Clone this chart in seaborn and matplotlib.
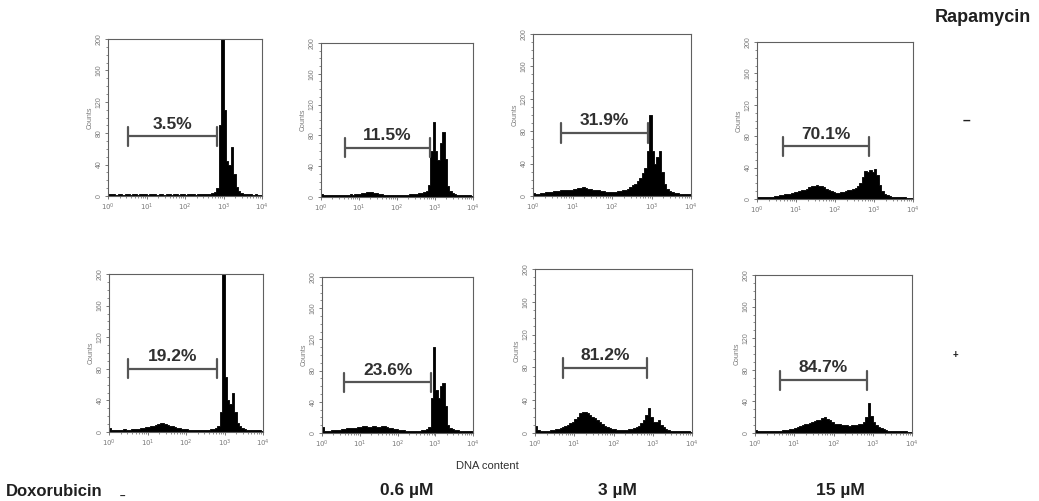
import numpy as np
import matplotlib
matplotlib.use("Agg")
import matplotlib.pyplot as plt
from matplotlib.ticker import FixedLocator, MultipleLocator, LogLocator, NullFormatter
import seaborn as sns

sns.set_style("white")
plt.rcParams["font.family"] = ["Liberation Sans", "DejaVu Sans"]

# DNA content histograms: counts per bin, 16 bins per decade over 10^0 .. 10^4
BINS_PER_DECADE = 16
N_BINS = 64

rapa_minus_ctrl = [3, 2, 2, 1, 2, 2, 1, 2,
                   2, 1, 2, 2, 1, 2, 2, 2,
                   1, 2, 2, 2, 1, 2, 2, 1,
                   2, 2, 1, 2, 2, 1, 2, 2,
                   1, 2, 2, 2, 1, 2, 2, 3,
                   2, 3, 3, 4, 5, 10, 90, 230,
                   110, 45, 40, 62, 28, 12, 6, 4,
                   3, 3, 2, 2, 1, 2, 1, 1]
rapa_minus_dox06 = [4, 2, 2, 2, 2, 3, 2, 2,
                    3, 3, 3, 3, 4, 3, 4, 4,
                    4, 5, 5, 6, 7, 6, 5, 5,
                    4, 4, 3, 3, 3, 3, 3, 2,
                    3, 2, 3, 3, 3, 4, 4, 4,
                    4, 5, 5, 6, 8, 15, 60, 97,
                    60, 48, 70, 84, 50, 14, 8, 5,
                    4, 3, 3, 2, 2, 2, 2, 1]
rapa_minus_dox3 = [4, 3, 3, 4, 4, 5, 5, 5,
                   6, 6, 6, 7, 7, 8, 8, 8,
                   9, 9, 10, 10, 11, 10, 9, 9,
                   8, 8, 7, 6, 6, 5, 5, 5,
                   5, 5, 6, 6, 7, 8, 9, 11,
                   13, 15, 18, 22, 28, 35, 55, 100,
                   55, 40, 48, 55, 30, 15, 9, 6,
                   5, 4, 4, 3, 3, 2, 2, 2]
rapa_minus_dox15 = [2, 2, 2, 3, 2, 3, 3, 4,
                    4, 5, 5, 6, 7, 7, 8, 9,
                    9, 10, 11, 12, 13, 15, 16, 17,
                    18, 17, 16, 15, 13, 11, 10, 9,
                    8, 8, 9, 9, 10, 11, 12, 13,
                    14, 16, 20, 28, 36, 35, 37, 34,
                    38, 30, 18, 10, 7, 5, 4, 3,
                    3, 2, 2, 2, 2, 1, 1, 1]
rapa_plus_ctrl = [5, 3, 3, 3, 3, 3, 4, 3,
                  3, 4, 4, 4, 4, 5, 5, 6,
                  6, 7, 8, 9, 10, 11, 11, 10,
                  9, 8, 7, 6, 5, 5, 4, 4,
                  4, 3, 3, 3, 3, 3, 3, 3,
                  3, 3, 4, 4, 5, 8, 25, 230,
                  70, 40, 35, 49, 25, 12, 8, 5,
                  4, 3, 3, 2, 2, 2, 2, 1]
rapa_plus_dox06 = [8, 3, 3, 3, 4, 4, 4, 4,
                   5, 5, 6, 6, 6, 7, 7, 8,
                   8, 9, 9, 8, 8, 9, 9, 8,
                   8, 9, 9, 8, 7, 6, 5, 5,
                   4, 4, 4, 3, 3, 3, 3, 3,
                   3, 3, 4, 4, 5, 8, 45, 110,
                   55, 45, 60, 64, 35, 10, 6, 5,
                   4, 4, 3, 3, 3, 2, 2, 2]
rapa_plus_dox3 = [8, 4, 3, 3, 3, 3, 4, 4,
                  5, 5, 6, 7, 8, 10, 12, 14,
                  17, 20, 24, 26, 25, 24, 22, 20,
                  18, 16, 14, 11, 9, 7, 6, 5,
                  5, 4, 4, 4, 4, 4, 5, 5,
                  6, 7, 9, 12, 16, 22, 30, 20,
                  14, 13, 16, 10, 7, 5, 4, 3,
                  3, 3, 2, 2, 2, 2, 2, 1]
rapa_plus_dox15 = [4, 3, 3, 3, 3, 3, 3, 3,
                   3, 3, 3, 4, 4, 4, 5, 5,
                   6, 7, 9, 10, 11, 12, 13, 14,
                   15, 16, 17, 19, 20, 18, 16, 14,
                   12, 11, 11, 10, 10, 10, 9, 10,
                   10, 10, 11, 12, 14, 20, 38, 22,
                   14, 10, 8, 6, 5, 4, 3, 3,
                   3, 2, 2, 2, 2, 2, 1, 1]

histograms = [[rapa_minus_ctrl, rapa_minus_dox06, rapa_minus_dox3, rapa_minus_dox15],
              [rapa_plus_ctrl, rapa_plus_dox06, rapa_plus_dox3, rapa_plus_dox15]]

# Sub-G1 gate markers: (lower bound, upper bound, marker height in counts)
gate_low = [[3.3, 4.3, 5.1, 4.7], [3.1, 3.8, 5.1, 4.4]]
gate_high = [[680, 740, 810, 740], [630, 790, 710, 710]]
gate_level = [[76, 64, 78, 67], [80, 65, 79, 67]]
gate_labels = [["3.5%", "11.5%", "31.9%", "70.1%"],
               ["19.2%", "23.6%", "81.2%", "84.7%"]]

dox_labels = ["\u2013", "0.6 \u00b5M", "3 \u00b5M", "15 \u00b5M"]
rapa_labels = ["\u2013", "+"]

# axes frames in pixels: (left, top, right, bottom)
frames = [[(108, 39, 262, 196), (321, 43, 473, 197), (533, 34, 691, 196), (757, 42, 913, 199)],
          [(109, 274, 263, 432), (322, 277, 473, 433), (535, 269, 692, 433), (755, 275, 912, 433)]]

W, H = 1039, 501
fig = plt.figure(figsize=(W / 100, H / 100), dpi=100)

bin_centers = 10 ** ((np.arange(N_BINS) + 0.5) / BINS_PER_DECADE)
grey = "#7a7a7a"
frame_col = "#606060"

for r in range(2):
    for c in range(4):
        l, t, rr, b = frames[r][c]
        ax = fig.add_axes([l / W, 1 - b / H, (rr - l) / W, (b - t) / H])
        sns.histplot(x=bin_centers, weights=histograms[r][c], bins=N_BINS,
                     binrange=(0, 4), log_scale=True, element="step", fill=True,
                     color="black", alpha=1.0, linewidth=0.6, ax=ax)
        ax.set_xlim(1, 1e4)
        ax.set_ylim(0, 200)
        ax.xaxis.set_major_locator(FixedLocator([1, 10, 100, 1000, 10000]))
        ax.set_xticklabels([r"$10^{0}$", r"$10^{1}$", r"$10^{2}$", r"$10^{3}$", r"$10^{4}$"])
        ax.xaxis.set_minor_locator(LogLocator(base=10, subs=np.arange(2, 10)))
        ax.xaxis.set_minor_formatter(NullFormatter())
        ax.yaxis.set_major_locator(MultipleLocator(40))
        ax.yaxis.set_minor_locator(MultipleLocator(10))
        for lab in ax.get_yticklabels():
            lab.set_rotation(90)
            lab.set_va("center")
        ax.tick_params(axis="both", which="major", labelsize=5, colors=frame_col,
                       labelcolor=grey, length=2.5, width=0.6, pad=1.5, direction="out",
                       bottom=True, left=True)
        ax.tick_params(axis="both", which="minor", length=1.5, width=0.5,
                       colors=frame_col, direction="out", bottom=True, left=True)
        for s in ax.spines.values():
            s.set_color(frame_col)
            s.set_linewidth(0.8)
        ax.set_xlabel("")
        ax.set_ylabel("Counts", fontsize=5, color=grey, labelpad=1)

        # gate marker with end caps and percentage
        x0, x1, y0 = gate_low[r][c], gate_high[r][c], gate_level[r][c]
        ax.plot([x0, x1], [y0, y0], color="#555555", lw=1.6, solid_capstyle="butt")
        ax.plot([x0, x0], [y0 - 12, y0 + 12], color="#555555", lw=1.6)
        ax.plot([x1, x1], [y0 - 12, y0 + 12], color="#555555", lw=1.6)
        xm = np.sqrt(x0 * x1)
        ax.text(xm, y0 + 6, gate_labels[r][c], ha="center", va="bottom",
                fontsize=12.5, fontweight="bold", color="#303030")

narrow = ["Liberation Sans Narrow", "Liberation Sans", "DejaVu Sans"]
fig.text(983 / W, 1 - 18 / H, "Rapamycin", ha="center", va="center",
         fontsize=13, fontweight="bold", color="#202020")
fig.text(966 / W, 1 - 121 / H, rapa_labels[0], ha="center", va="center",
         fontsize=10, fontweight="bold", color="#202020")
fig.text(955 / W, 1 - 355 / H, rapa_labels[1], ha="center", va="center",
         fontsize=7, fontweight="bold", color="#202020")
fig.text(487 / W, 1 - 466 / H, "DNA content", ha="center", va="center",
         fontsize=8, color="#303030", family=narrow)
fig.text(6 / W, 1 - 491 / H, "Doxorubicin", ha="left", va="center",
         fontsize=12, fontweight="bold", color="#202020", family=narrow)
fig.text(122 / W, 1 - 497 / H, dox_labels[0], ha="center", va="center",
         fontsize=7, fontweight="bold", color="#202020")
for xc, lab in zip([407, 617, 840], dox_labels[1:]):
    fig.text(xc / W, 1 - 491 / H, lab, ha="center", va="center",
             fontsize=12.5, fontweight="bold", color="#202020", family=narrow)

fig.savefig("out.png", dpi=100)
